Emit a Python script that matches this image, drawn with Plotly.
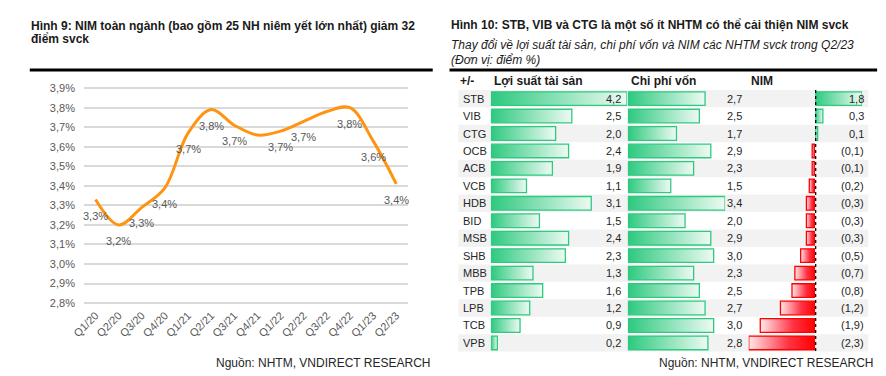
import plotly.graph_objects as go

# ---------------- data ----------------
quarters = ["Q1/20", "Q2/20", "Q3/20", "Q4/20", "Q1/21", "Q2/21", "Q3/21",
            "Q4/21", "Q1/22", "Q2/22", "Q3/22", "Q4/22", "Q1/23", "Q2/23"]
nim_industry = [3.33, 3.20, 3.29, 3.39, 3.67, 3.79, 3.71,
                3.66, 3.68, 3.73, 3.78, 3.80, 3.63, 3.41]
label_shown = [1, 1, 1, 1, 1, 1, 1, 0, 1, 1, 0, 1, 1, 1]
y_tick_values = [2.8, 2.9, 3.0, 3.1, 3.2, 3.3, 3.4, 3.5, 3.6, 3.7, 3.8, 3.9]

banks = ["STB", "VIB", "CTG", "OCB", "ACB", "VCB", "HDB", "BID",
         "MSB", "SHB", "MBB", "TPB", "LPB", "TCB", "VPB"]
asset_yield_chg = [4.2, 2.5, 2.0, 2.4, 1.9, 1.1, 3.1, 1.5, 2.4, 2.3, 1.3, 1.6, 1.2, 0.9, 0.2]
cost_of_funds_chg = [2.7, 2.5, 1.7, 2.9, 2.3, 1.5, 3.4, 2.0, 2.9, 3.0, 2.3, 2.5, 2.7, 3.0, 2.8]
nim_chg = [1.8, 0.3, 0.1, -0.1, -0.1, -0.2, -0.3, -0.3, -0.3, -0.5, -0.7, -0.8, -1.2, -1.9, -2.3]

title_left_1 = "Hình 9: NIM toàn ngành (bao gồm 25 NH niêm yết lớn nhất) giảm 32"
title_left_2 = "điểm svck"
title_right = "Hình 10: STB, VIB và CTG là một số ít NHTM có thể cải thiện NIM svck"
subtitle_right_1 = "Thay đổi về lợi suất tài sản, chi phí vốn và NIM các NHTM svck trong Q2/23"
subtitle_right_2 = "(Đơn vị: điểm %)"
headers = ["+/-", "Lợi suất tài sản", "Chi phí vốn", "NIM"]
source = "Nguồn: NHTM, VNDIRECT RESEARCH"

# ---------------- helpers ----------------
W, H = 886, 376
FONT = "Liberation Sans, Arial, sans-serif"


def px(x):
    return x / W


def py(y):
    return 1 - y / H


def fmt(v):
    return f"{v:.1f}".replace(".", ",")


def fmt_neg(v):
    return f"({fmt(abs(v))})" if v < 0 else fmt(v)


GREEN = "#2DCA80"
GREEN_SCALE = [[0, "#2CC97E"], [1, "#EEFAF3"]]
RED_SCALE = [[0, "#FFE8EB"], [0.6, "#FF3344"], [1, "#FF0000"]]

fig = go.Figure()

# ---------------- left: line chart ----------------
fig.add_trace(go.Scatter(
    x=quarters, y=nim_industry, mode="lines", xaxis="x", yaxis="y",
    line=dict(color="#FF9412", width=3, shape="spline", smoothing=1.0),
    hoverinfo="skip", showlegend=False))

annotations = []
for q, v, s in zip(quarters, nim_industry, label_shown):
    if s:
        annotations.append(dict(
            x=q, y=v, xref="x", yref="y", text=fmt(v) + "%", showarrow=False,
            yanchor="middle", yshift=-16, font=dict(size=11, color="#595959")))

# ---------------- right: table with data bars ----------------
BH = 0.39


def bar_trace(v, i, xa, scale, lc):
    return go.Scatter(
        x=[0, v, v, 0, 0], y=[i - BH, i - BH, i + BH, i + BH, i - BH],
        xaxis=xa, yaxis="y2", mode="lines", line=dict(color=lc, width=1.3),
        fill="toself", fillgradient=dict(type="horizontal", colorscale=scale),
        hoverinfo="skip", showlegend=False)


shapes = []
for i, b in enumerate(banks):
    if i % 2 == 0:
        shapes.append(dict(type="rect", xref="paper", yref="y2",
                           x0=px(452), x1=px(868), y0=i - 0.5, y1=i + 0.5,
                           fillcolor="#F2F2F2", line=dict(width=0), layer="below"))
    fig.add_trace(bar_trace(asset_yield_chg[i], i, "x2", GREEN_SCALE, GREEN))
    fig.add_trace(bar_trace(cost_of_funds_chg[i], i, "x3", GREEN_SCALE, GREEN))
    n = nim_chg[i]
    if n < 0:
        fig.add_trace(bar_trace(n, i, "x4", RED_SCALE, "#FF0000"))
    else:
        fig.add_trace(bar_trace(n, i, "x5", GREEN_SCALE, GREEN))

    tf = dict(size=11, color="#262626", family=FONT)
    annotations += [
        dict(x=px(455), y=i, xref="paper", yref="y2", text=b, showarrow=False,
             xanchor="left", yanchor="middle", font=tf),
        dict(x=px(619), y=i, xref="paper", yref="y2", text=fmt(asset_yield_chg[i]),
             showarrow=False, xanchor="right", yanchor="middle", font=tf),
        dict(x=px(742), y=i, xref="paper", yref="y2", text=fmt(cost_of_funds_chg[i]),
             showarrow=False, xanchor="right", yanchor="middle", font=tf),
        dict(x=px(866), y=i, xref="paper", yref="y2", text=fmt_neg(nim_chg[i]),
             showarrow=False, xanchor="right", yanchor="middle", font=tf),
    ]

# zero axis of NIM column (dotted)
shapes.append(dict(type="line", xref="x5", yref="y2", x0=0, x1=0,
                   y0=-0.5, y1=len(banks) - 0.5,
                   line=dict(color="black", width=2.5, dash="dot")))

# black rules under titles
shapes.append(dict(type="line", xref="paper", yref="paper", x0=px(17), x1=px(426),
                   y0=py(68), y1=py(68), line=dict(color="black", width=3)))
shapes.append(dict(type="line", xref="paper", yref="paper", x0=px(443), x1=px(877),
                   y0=py(68), y1=py(68), line=dict(color="black", width=3)))

# titles & texts
bold = dict(size=12, color="#1A1A1A", family=FONT)


def txt(x, y, t, font, xanchor="left"):
    return dict(x=px(x), y=py(y), xref="paper", yref="paper", text=t,
                showarrow=False, xanchor=xanchor, yanchor="middle", font=font)


annotations += [
    txt(16, 23, "<b>" + title_left_1 + "</b>", bold),
    txt(16, 37, "<b>" + title_left_2 + "</b>", bold),
    txt(442, 22.5, "<b>" + title_right + "</b>", bold),
    txt(442, 42.5, "<i>" + subtitle_right_1 + "</i>", dict(size=12, color="#1A1A1A", family=FONT)),
    txt(442, 57.5, "<i>" + subtitle_right_2 + "</i>", dict(size=12, color="#1A1A1A", family=FONT)),
    txt(452, 79.5, "<b>" + headers[0] + "</b>", bold),
    txt(486, 79.5, "<b>" + headers[1] + "</b>", bold),
    txt(625, 79.5, "<b>" + headers[2] + "</b>", bold),
    txt(747, 79.5, "<b>" + headers[3] + "</b>", bold),
    txt(426, 366, source, dict(size=12, color="#262626", family=FONT), xanchor="right"),
    txt(876, 366, source, dict(size=12, color="#262626", family=FONT), xanchor="right"),
]

hidden = dict(visible=False, fixedrange=True)
fig.update_layout(
    width=W, height=H, margin=dict(l=0, r=0, t=0, b=0),
    paper_bgcolor="white", plot_bgcolor="rgba(0,0,0,0)",
    separators=",.", font=dict(family=FONT, color="#595959"),
    showlegend=False,
    xaxis=dict(domain=[px(72), px(400.7)], anchor="y", type="category",
               range=[-0.5, len(quarters) - 0.5], tickangle=-45,
               tickfont=dict(size=11, color="#595959"), showgrid=False,
               ticks="", showline=False, zeroline=False),
    yaxis=dict(domain=[py(308), py(83.5)], anchor="x", range=[2.785, 3.915],
               tickmode="array", tickvals=y_tick_values,
               ticktext=[fmt(v) + "%" for v in y_tick_values],
               tickfont=dict(size=11, color="#595959"), gridcolor="#D9D9D9",
               gridwidth=1.5, zeroline=False, showline=False, ticks="",
               ticklabelstandoff=8),
    xaxis2=dict(domain=[px(485), px(623)], range=[0, max(asset_yield_chg)], anchor="y2", **hidden),
    xaxis3=dict(domain=[px(624), px(722.7)], range=[0, max(cost_of_funds_chg)], anchor="y2", **hidden),
    xaxis4=dict(domain=[px(746.7), px(814)], range=[min(nim_chg), 0], anchor="y2", **hidden),
    xaxis5=dict(domain=[px(814), px(861.7)], range=[0, max(nim_chg)], anchor="y2", **hidden),
    yaxis2=dict(domain=[py(354.3), py(88.3)], range=[len(banks) - 0.5, -0.5], anchor="x2", **hidden),
    shapes=shapes, annotations=annotations,
)

fig.write_html("out.html", config={"displayModeBar": False},
               post_script="document.body.style.margin='0px';document.body.style.overflow='hidden';")
